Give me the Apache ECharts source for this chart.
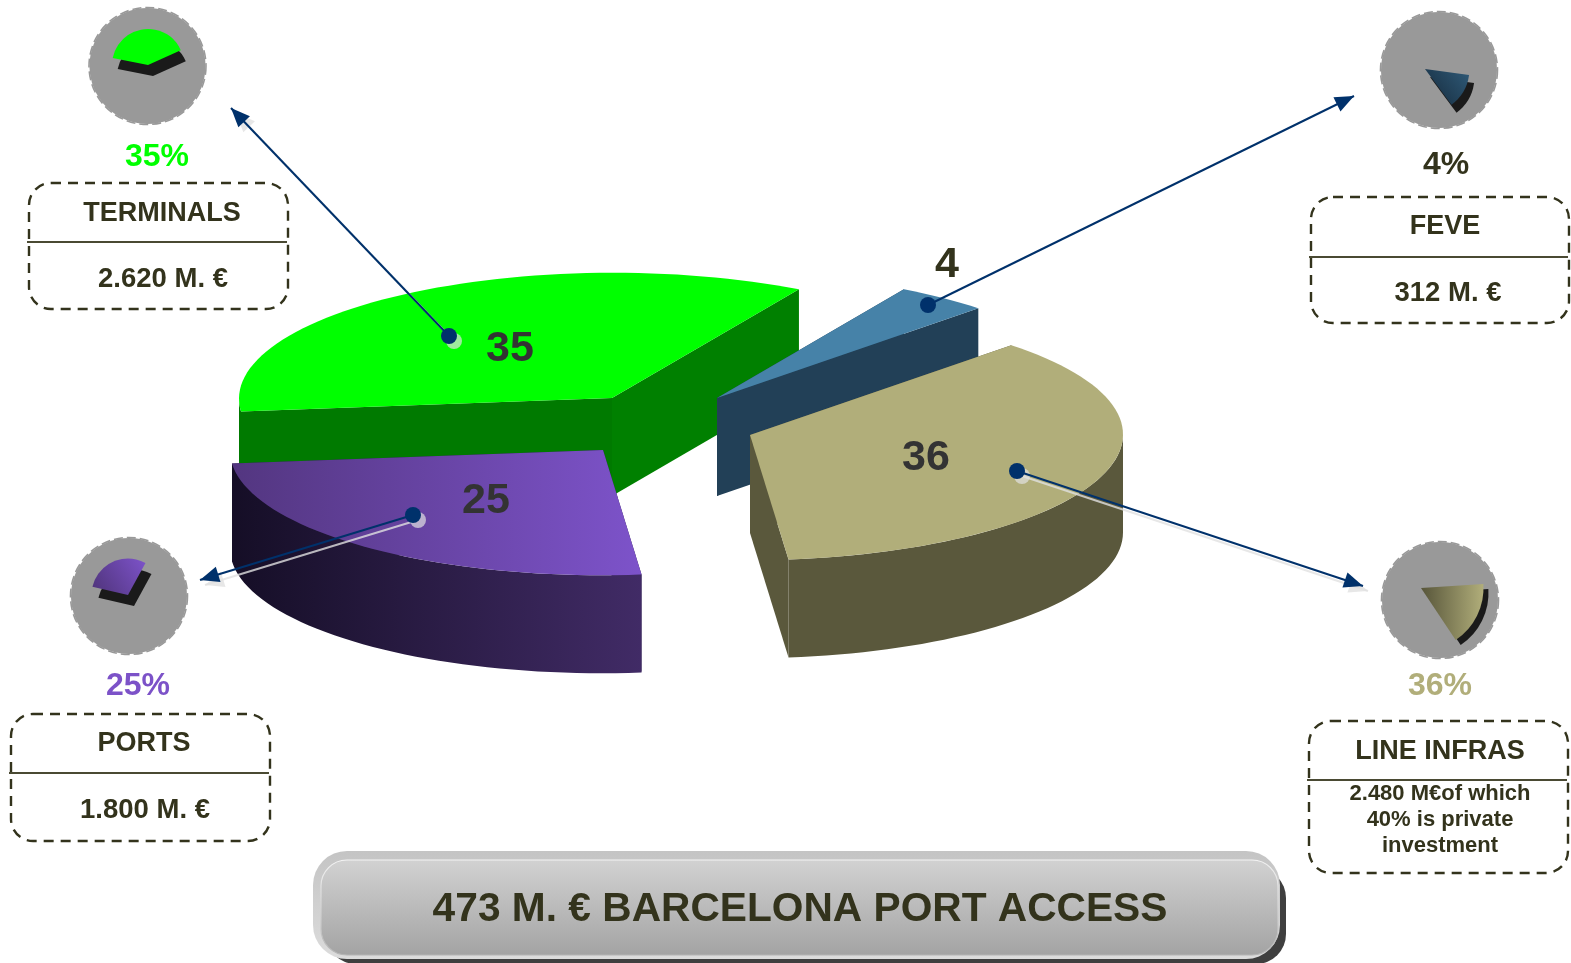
<!DOCTYPE html>
<html>
<head>
<meta charset="utf-8">
<title>Barcelona port access</title>
<script src="https://cdn.jsdelivr.net/npm/echarts@6/dist/echarts.min.js"></script>
<style>
  html, body { margin: 0; padding: 0; background: #fff; }
  #chart { width: 1571px; height: 963px; }
</style>
</head>
<body>
<div id="chart"></div>
<script>
// Data
const categories = ['TERMINALS', 'FEVE', 'LINE INFRAS', 'PORTS'];
const shares = [35, 4, 36, 25];
const amounts = ['2.620 M. €', '312 M. €', '2.480 M€of which\n40% is private\ninvestment', '1.800 M. €'];
const titleText = '473 M. € BARCELONA PORT ACCESS';

const FONT = '"Liberation Sans", Arial, sans-serif';
const INK = '#33331c';

// 3D look: the pie plane maps to the screen through two axes, each slice pulled out on its own
const axisA = [38.5, 124.5];
const axisB = [-371, 13.5];
const startAngle = 90;
const depth = 98;
const apexes = [[612, 398], [717, 398], [750, 435], [603, 450]];
const labelPos = [[510, 349], [947, 265], [926, 458], [486, 501]];
const labelInk = ['#333333', INK, '#333333', '#333333'];

const grad = (c1, c2) => new echarts.graphic.LinearGradient(0, 0, 1, 0, [
  { offset: 0, color: c1 },
  { offset: 1, color: c2 }
]);
const vGrad = (c1, c2) => new echarts.graphic.LinearGradient(0, 0, 0, 1, [
  { offset: 0, color: c1 },
  { offset: 1, color: c2 }
]);
const topFill = ['#00ff00', '#4682a8', '#b1ae7a', grad('#533680', '#7d53ca')];
const rimFill = ['#007a00', '#224057', '#5a583c', grad('#150e26', '#412b66')];
const wallFill = [['#007a00', '#008000'], ['#224057', '#224057'], ['#5a583c', '#5a583c'], ['#2a1c48', '#2a1c48']];

// x extremes of the ellipse, the rim only shows between them
const frontFrom = Math.atan2(axisB[0], axisA[0]) * 180 / Math.PI;
const frontTo = frontFrom + 180;

function onPlane(apex, deg, dy) {
  const t = deg * Math.PI / 180;
  return [
    apex[0] + Math.cos(t) * axisA[0] + Math.sin(t) * axisB[0],
    apex[1] + Math.cos(t) * axisA[1] + Math.sin(t) * axisB[1] + (dy || 0)
  ];
}

function arc(apex, from, to, dy) {
  const pts = [];
  const n = Math.max(2, Math.ceil(Math.abs(to - from) / 2));
  for (let i = 0; i <= n; i++) pts.push(onPlane(apex, from + (to - from) * i / n, dy));
  return pts;
}

function poly(points, fill) {
  return { type: 'polygon', shape: { points: points }, style: { fill: fill } };
}

function radialWall(apex, deg, fill) {
  const p = onPlane(apex, deg);
  return poly([apex, p, [p[0], p[1] + depth], [apex[0], apex[1] + depth]], fill);
}

function renderSlice(params, api) {
  const i = params.dataIndex;
  const apex = apexes[i];
  let from = startAngle;
  for (let k = 0; k < i; k++) from += shares[k] * 3.6;
  const to = from + api.value(0) * 3.6;
  const children = [
    radialWall(apex, from, wallFill[i][0]),
    radialWall(apex, to, wallFill[i][1])
  ];
  // rim, tried at both turns of the circle
  [0, 360].forEach(function (turn) {
    const a = Math.max(from, frontFrom + turn);
    const b = Math.min(to, frontTo + turn);
    if (b > a) {
      const upper = arc(apex, a, b, 0);
      const lower = arc(apex, a, b, depth).reverse();
      children.push(poly(upper.concat(lower), rimFill[i]));
    }
  });
  children.push(poly([apex].concat(arc(apex, from, to, 0)), topFill[i]));
  children.push({
    type: 'text',
    style: {
      text: String(api.value(0)),
      x: labelPos[i][0],
      y: labelPos[i][1],
      fill: labelInk[i],
      font: 'bold 43px ' + FONT,
      textAlign: 'center',
      textVerticalAlign: 'middle'
    }
  });
  return { type: 'group', children: children };
}

// Decoration helpers
function text(str, x, y, size, fill, extra) {
  return {
    type: 'text',
    z: 20,
    style: Object.assign({
      text: str,
      x: x,
      y: y,
      fill: fill || INK,
      font: 'bold ' + size + 'px ' + FONT,
      textAlign: 'center',
      textVerticalAlign: 'middle'
    }, extra || {})
  };
}

function disc(cx, cy) {
  return [
    { type: 'circle', z: 10, shape: { cx: cx, cy: cy, r: 58 }, style: { fill: '#999999' } },
    { type: 'circle', z: 10, shape: { cx: cx, cy: cy, r: 58.5 }, style: { fill: null, stroke: '#999999', lineWidth: 1.6, lineDash: [9, 4] } }
  ];
}

function wedge(cx, cy, r, a0, a1, fill, sx, sy) {
  const toRad = Math.PI / 180;
  return [
    { type: 'sector', z: 11, shape: { cx: cx + sx, cy: cy + sy, r: r, startAngle: a0 * toRad, endAngle: a1 * toRad, clockwise: true }, style: { fill: '#1a1a1a' } },
    { type: 'sector', z: 11, shape: { cx: cx, cy: cy, r: r, startAngle: a0 * toRad, endAngle: a1 * toRad, clockwise: true }, style: { fill: fill } }
  ];
}

function box(x0, x1, y0, y1, lineY) {
  return [
    { type: 'rect', z: 10, shape: { x: x0, y: y0, width: x1 - x0, height: y1 - y0, r: 22 }, style: { fill: null, stroke: '#33331c', lineWidth: 2.4, lineDash: [10, 7] } },
    { type: 'line', z: 10, shape: { x1: x0 - 2, y1: lineY, x2: x1 - 1, y2: lineY }, style: { stroke: '#4a4a33', lineWidth: 2 } }
  ];
}

function leader(x0, y0, x1, y1, shadow) {
  const items = [];
  const ang = Math.atan2(y1 - y0, x1 - x0);
  const head = function (dx, dy, fill) {
    const tip = [x1 + dx, y1 + dy];
    const len = 19, half = 8;
    const bx = tip[0] - Math.cos(ang) * len;
    const by = tip[1] - Math.sin(ang) * len;
    return {
      type: 'polygon', z: 12,
      shape: { points: [tip, [bx - Math.sin(ang) * half, by + Math.cos(ang) * half], [bx + Math.sin(ang) * half, by - Math.cos(ang) * half]] },
      style: { fill: fill }
    };
  };
  if (shadow) {
    items.push({ type: 'line', z: 12, shape: { x1: x0 + 5, y1: y0 + 5, x2: x1 + 5, y2: y1 + 5 }, style: { stroke: 'rgba(225,225,225,0.8)', lineWidth: 2 } });
    items.push(head(5, 5, 'rgba(225,225,225,0.8)'));
    items.push({ type: 'circle', z: 12, shape: { cx: x0 + 5, cy: y0 + 5, r: 8 }, style: { fill: 'rgba(225,225,225,0.7)' } });
  }
  items.push({ type: 'line', z: 13, shape: { x1: x0, y1: y0, x2: x1, y2: y1 }, style: { stroke: '#00316b', lineWidth: 2 } });
  items.push(Object.assign(head(0, 0, '#00316b'), { z: 13 }));
  items.push({ type: 'circle', z: 13, shape: { cx: x0, cy: y0, r: 8 }, style: { fill: '#00316b' } });
  return items;
}

const diagGrad = (c1, c2) => new echarts.graphic.LinearGradient(0, 1, 1, 0, [
  { offset: 0, color: c1 },
  { offset: 1, color: c2 }
]);

const titleBar = [
  { type: 'rect', z: 10, shape: { x: 326, y: 868, width: 960, height: 96, r: 30 }, style: { fill: '#3f3f3f' } },
  { type: 'rect', z: 10, shape: { x: 313, y: 851, width: 967, height: 108, r: 34 }, style: { fill: vGrad('#c4c4c4', '#dcdcdc') } },
  { type: 'rect', z: 10, shape: { x: 321, y: 860, width: 957, height: 95, r: 26 }, style: { fill: vGrad('#d2d2d2', '#a3a3a3'), stroke: vGrad('#f4f4f4', '#b4b4b4'), lineWidth: 1.2 } }
];

const option = {
  animation: false,
  backgroundColor: '#ffffff',
  series: [
    {
      type: 'custom',
      coordinateSystem: 'none',
      silent: true,
      renderItem: renderSlice,
      data: shares.map((v, i) => ({ name: categories[i], value: [v] }))
    }
  ],
  graphic: {
    elements: [].concat(
      leader(449, 336, 231, 108, true),
      leader(928, 305, 1354, 96, false),
      leader(1017, 471, 1363, 586, true),
      leader(413, 515, 200, 580, true),

      disc(147.5, 66),
      wedge(148, 65, 36, -168.7, -24.4, '#00ff00', 5, 11),
      text(shares[0] + '%', 157, 157, 32, '#00ff00'),
      box(29, 288, 183, 309, 242),
      text(categories[0], 162, 214, 27),
      text(amounts[0], 163, 279, 27.5),

      disc(1439, 70),
      wedge(1425, 69, 44.5, 7.8, 53.4, diagGrad('#15293a', '#2f5a78'), 5, 8),
      text(shares[1] + '%', 1446, 165, 32),
      box(1311, 1569, 197, 323, 257),
      text(categories[1], 1445, 227, 27),
      text(amounts[1], 1448, 293, 27.5),

      disc(1440, 600),
      wedge(1421, 588, 62.5, -3.7, 56.3, grad('#57553a', '#b1ae7a'), 5, 5),
      text(shares[2] + '%', 1440, 686, 32, '#b1ae7a', { shadowColor: 'rgba(120,120,120,0.6)', shadowOffsetX: 1, shadowOffsetY: 1 }),
      box(1309, 1568, 721, 873, 780),
      text(categories[2], 1440, 752, 27),
      text(amounts[2], 1440, 820, 22, INK, { lineHeight: 26 }),

      disc(129, 596),
      wedge(128, 595, 36.5, -167, -61.4, diagGrad('#4e3378', '#7d53ca'), 6, 11),
      text(shares[3] + '%', 138, 686, 32, '#7c52c8'),
      box(11, 270, 714, 841, 773),
      text(categories[3], 144, 744, 27),
      text(amounts[3], 145, 810, 27.5),

      titleBar,
      text(titleText, 800, 910, 40.7)
    )
  }
};

const chart = echarts.init(document.getElementById('chart'));
chart.setOption(option);
window.addEventListener('resize', () => chart.resize());
</script>
</body>
</html>
